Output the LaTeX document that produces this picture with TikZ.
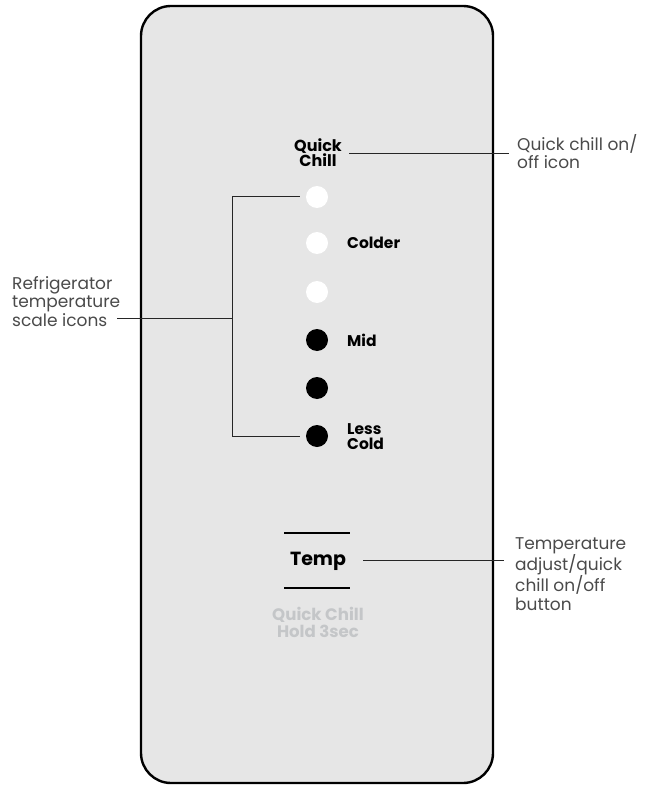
\documentclass[tikz,border=0pt]{standalone}
\usepackage{fontspec}
\setmainfont{Poppins}
\newfontfamily\panelfont{Poppins}
\definecolor{panelgray}{HTML}{E6E6E6}
\definecolor{labelgray}{HTML}{4A4A4A}
\definecolor{faintgray}{HTML}{C4C6C8}
\begin{document}
\begin{tikzpicture}[x=1pt,y=-1pt,
  panel/.style={draw=black,line width=2.4pt,fill=panelgray,rounded corners=30pt},
  whitedot/.style={circle,fill=white,minimum size=22pt,inner sep=0pt},
  blackdot/.style={circle,fill=black,minimum size=22pt,inner sep=0pt},
  plabel/.style={font=\panelfont\bfseries\fontsize{15.5}{15.5}\selectfont,inner sep=0pt,align=center},
  outlabel/.style={font=\fontsize{17}{18.7}\selectfont,text=labelgray,inner sep=0pt,align=left},
  lead/.style={draw=black!85,line width=1pt},
  bar/.style={draw=black,line width=2.2pt}]
\useasboundingbox (0,0) rectangle (646,786);
\path[panel] (141,6) rectangle (493,783);
% Quick Chill icon
\node[plabel,font=\panelfont\bfseries\fontsize{16}{15}\selectfont] (qc) at (318,153) {Quick\\Chill};
% dots
\node[whitedot] (d1) at (317,197) {};
\node[whitedot] (d2) at (317,243) {};
\node[whitedot] (d3) at (317,292) {};
\node[blackdot] (d4) at (317,340) {};
\node[blackdot] (d5) at (317,388) {};
\node[blackdot] (d6) at (317,436) {};
\node[plabel,anchor=west] (colder) at (347,243) {Colder};
\node[plabel,anchor=west] (mid) at (347,340) {Mid};
\node[plabel,anchor=west,align=left,font=\panelfont\bfseries\fontsize{15.5}{15}\selectfont] (less) at (347,437) {Less\\Cold};
% Temp button
\node[plabel,font=\panelfont\bfseries\fontsize{19}{19}\selectfont] (temp) at (318,561) {Temp};
\coordinate (tl1) at (284,533); \coordinate (tr1) at (350,533);
\coordinate (tl2) at (284,588); \coordinate (tr2) at (350,588);
\draw[bar] (tl1) -- (tr1);
\draw[bar] (tl2) -- (tr2);
\node[plabel,text=faintgray,font=\panelfont\bfseries\fontsize{16.6}{17}\selectfont] (hold) at (318,622) {Quick Chill\\Hold 3sec};
% outside labels
\node[outlabel,anchor=north west] (lqc) at (517,134) {Quick chill on/\\off icon};
\node[outlabel,anchor=north west] (lscale) at (12,276) {Refrigerator\\temperature\\scale icons};
\node[outlabel,anchor=north west] (ltemp) at (515,537) {Temperature\\adjust/quick\\chill on/off\\button};
% leaders
\coordinate (qcs) at (349,154); \coordinate (qce) at (509,154);
\draw[lead] (qcs) -- (qce);
\coordinate (br1) at (232,197); \coordinate (br2) at (232,436); \coordinate (brm) at (232,318);
\coordinate (scs) at (117,318);
\draw[lead] (d1.west) ++(-6,0) -- (br1) -- (br2) -- ([xshift=-6pt]d6.west);
\draw[lead] (scs) -- (brm);
\coordinate (tce) at (504,560);
\draw[lead] (363,560) -- (tce);
\end{tikzpicture}
\end{document}
